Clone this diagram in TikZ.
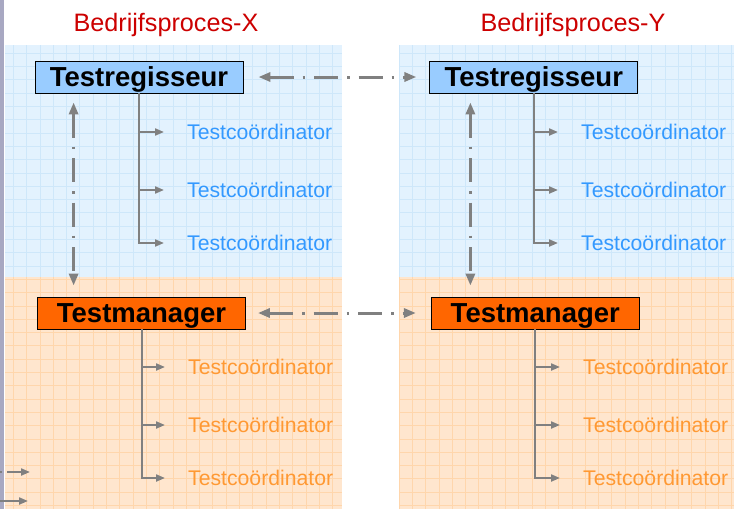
\documentclass[tikz,border=0pt]{standalone}
\usepackage{fontspec}
\setmainfont{Liberation Sans}
\usetikzlibrary{positioning, arrows.meta}

\definecolor{regblue}{HTML}{99CCFF}
\definecolor{mgrorange}{HTML}{FF6600}
\definecolor{tcblue}{HTML}{3399FF}
\definecolor{tcorange}{HTML}{FF9933}
\definecolor{bgblue}{HTML}{E3F2FE}
\definecolor{gridblue}{HTML}{CEE7FA}
\definecolor{bgorange}{HTML}{FFE6CE}
\definecolor{gridorange}{HTML}{FFD6AC}
\definecolor{titlered}{HTML}{CC0000}
\definecolor{linegray}{HTML}{808080}
\definecolor{stripgray}{HTML}{A8A8C2}

\begin{document}
\begin{tikzpicture}[x=1pt, y=-1pt,
        box/.style={draw=black, line width=0.8pt, minimum width=208pt, minimum height=32pt,
            inner sep=0pt, text depth=0pt, font=\fontsize{27.5}{30}\selectfont\bfseries},
        coord/.style={anchor=west, inner sep=0pt, font=\fontsize{21.2}{24}\selectfont},
        title/.style={text=titlered, inner sep=0pt, font=\fontsize{25.2}{28}\selectfont},
        tree/.style={draw=linegray, line width=2pt, -{Triangle[length=9pt,width=7pt]}},
        link/.style={draw=linegray, line width=3pt, dash pattern=on 24pt off 9pt on 2.5pt off 9pt,
            {Triangle[length=12pt,width=9pt]}-{Triangle[length=12pt,width=9pt]}}]

    % achtergrond
    \useasboundingbox (0,0) rectangle (734,509);
    \fill[stripgray] (0,0) rectangle (4,509);
    \foreach \xa/\xb in {5/342, 399/734} {
        \fill[bgblue] (\xa,45) rectangle (\xb,277);
        \fill[bgorange] (\xa,277) rectangle (\xb,509);
        \draw[gridblue, line width=0.8pt, step=13.3pt] (\xa,45) grid (\xb,277);
        \draw[gridorange, line width=0.8pt, step=13.3pt] (\xa,277) grid (\xb,509);
    }

    \node[title] (titX) at (166,25) {Bedrijfsproces-X};
    \node[title] (titY) at (573,25) {Bedrijfsproces-Y};

    \node[box, fill=regblue]                      (regX) at (139,77)    {Testregisseur};
    \node[box, fill=mgrorange]                    (mgrX) at (141.5,313) {Testmanager};
    \node[box, fill=regblue, right=186pt of regX]   (regY)              {Testregisseur};
    \node[box, fill=mgrorange, right=185pt of mgrX] (mgrY)              {Testmanager};

    % testcoördinatoren
    \foreach \n/\y in {1/132, 2/190, 3/243} {
        \node[coord, text=tcblue] (tcX\n) at (187,\y) {Testcoördinator};
        \node[coord, text=tcblue] (tcY\n) at (581,\y) {Testcoördinator};
    }
    \foreach \n/\y in {1/367, 2/425, 3/478} {
        \node[coord, text=tcorange] (tmX\n) at (188,\y) {Testcoördinator};
        \node[coord, text=tcorange] (tmY\n) at (583,\y) {Testcoördinator};
    }

    \foreach \b/\t in {regX/tcX, regY/tcY, mgrX/tmX, mgrY/tmY} {
        \draw[tree] (\b.south) |- ([xshift=-23pt]\t3.west);
        \foreach \n in {1,2}
            \draw[tree] (\b.south |- \t\n.west) -- ([xshift=-23pt]\t\n.west);
    }

    \draw[link, shorten <=15pt, shorten >=13pt] (regX.east) -- (regY.west);
    \draw[link, shorten <=12pt, shorten >=15pt] (mgrX.east) -- (mgrY.west);
    \draw[link, shorten <=9pt, shorten >=11pt] ([xshift=39pt]regX.south west)
        -- ([xshift=39pt]regX.south west |- mgrX.north);
    \draw[link, shorten <=9pt, shorten >=11pt] ([xshift=41pt]regY.south west)
        -- ([xshift=41pt]regY.south west |- mgrY.north);

    % afgesneden pijlen links onder
    \coordinate (cutA) at (0,472);
    \coordinate (endA) at (30,472);
    \coordinate (cutB) at (0,501);
    \coordinate (endB) at (28,501);
    \draw[tree, dash pattern=on 2pt off 5pt on 40pt] (cutA) -- (endA);
    \draw[tree] (cutB) -- (endB);
\end{tikzpicture}
\end{document}
